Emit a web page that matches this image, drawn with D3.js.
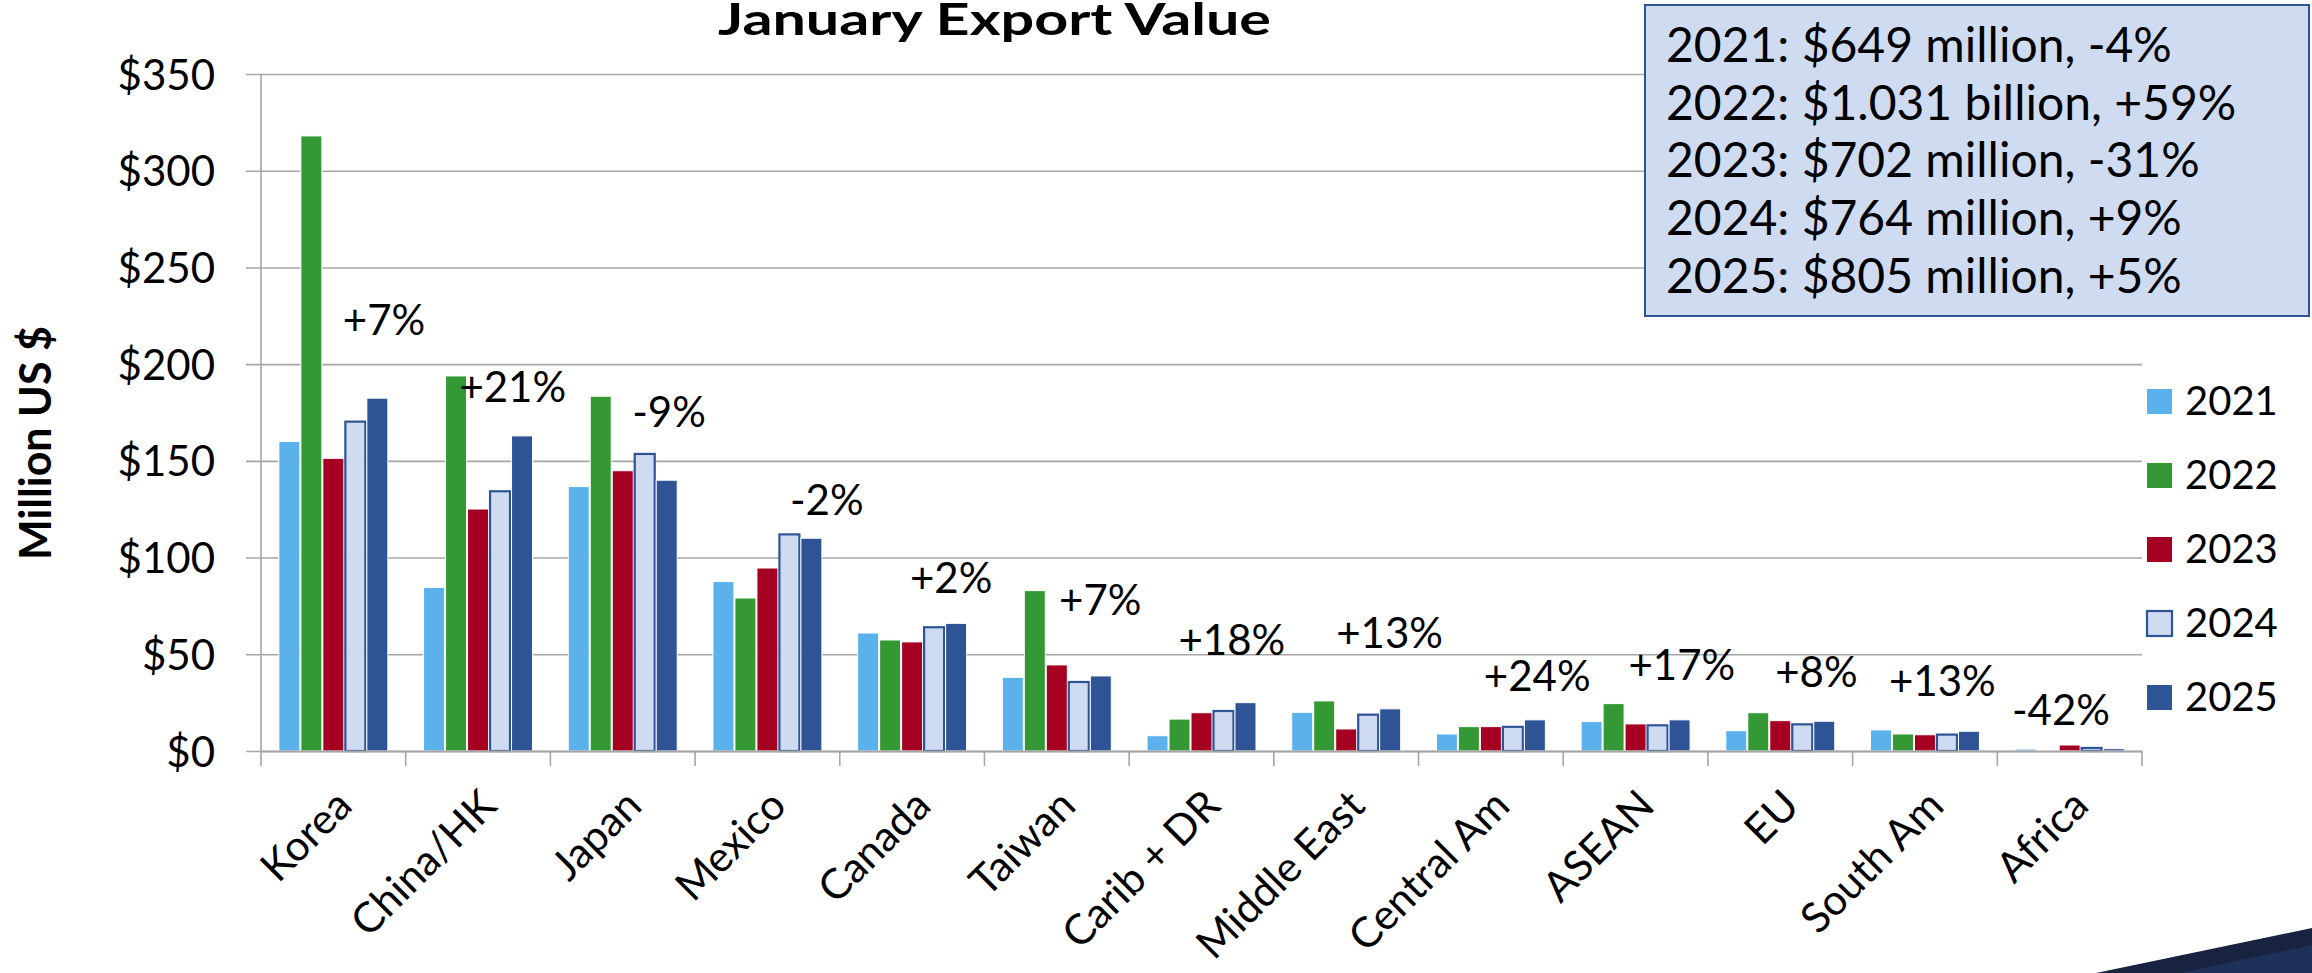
<!DOCTYPE html>
<html>
<head>
<meta charset="utf-8">
<script src="https://cdn.jsdelivr.net/npm/d3@7"></script>
<style>
  html, body { margin: 0; padding: 0; background: #fff; }
  svg { display: block; font-family: Lato, "Open Sans", sans-serif; }
</style>
</head>
<body>
<svg id="chart" width="2312" height="973"></svg>
<script>
// ---------- data ----------
const categories = ["Korea", "China/HK", "Japan", "Mexico", "Canada", "Taiwan", "Carib + DR",
                    "Middle East", "Central Am", "ASEAN", "EU", "South Am", "Africa"];
const years = ["2021", "2022", "2023", "2024", "2025"];
const v2021 = [160.0, 84.6, 136.7, 87.6, 61.0, 38.1, 7.9, 20.0, 8.8, 15.2, 10.5, 10.9, 1.0];
const v2022 = [318.0, 193.9, 183.4, 79.1, 57.4, 82.9, 16.5, 25.9, 12.6, 24.5, 19.8, 8.8, 0.3];
const v2023 = [151.3, 125.1, 144.9, 94.6, 56.4, 44.5, 19.8, 11.4, 12.6, 14.0, 15.7, 8.4, 3.1];
const v2024 = [170.8, 134.8, 154.1, 112.5, 64.5, 36.2, 21.2, 19.3, 13.0, 13.8, 14.3, 9.0, 2.1];
const v2025 = [182.4, 162.9, 140.0, 110.0, 66.0, 38.8, 25.0, 21.8, 16.1, 16.1, 15.4, 10.2, 1.2];
const changeLabels = ["+7%", "+21%", "-9%", "-2%", "+2%", "+7%", "+18%", "+13%", "+24%", "+17%", "+8%", "+13%", "-42%"];
const yTicks = [0, 50, 100, 150, 200, 250, 300, 350];
const summaryLines = ["2021: $649 million, -4%", "2022: $1.031 billion, +59%", "2023: $702 million, -31%",
                      "2024: $764 million, +9%", "2025: $805 million, +5%"];
const titleText = "January Export Value";
const yAxisTitle = "Million US $";

// annotation placement (value level of label baseline, and shift within the category band)
const labelLevel = [215, 180.5, 167.5, 122, 81.7, 70.3, 49.6, 53.3, 31, 36.7, 33.1, 28.4, 13.4];
const labelShift = [0.35, 0.24, 0.32, 0.41, 0.27, 0.30, 0.21, 0.30, 0.32, 0.32, 0.25, 0.12, -0.06];

const seriesValues = [v2021, v2022, v2023, v2024, v2025];
const colors = ["#5AB1EC", "#349934", "#A50021", "#CFDBF1", "#2F5496"];
const strokes = ["#ffffff", "#ffffff", "#ffffff", "#2F5496", "#ffffff"];

// ---------- layout ----------
const svg = d3.select("#chart");
const plotLeft = 261, plotRight = 2142, plotTop = 74, plotBottom = 751;

const x0 = d3.scaleBand().domain(categories).range([plotLeft, plotRight]).paddingInner(0).paddingOuter(0);
const x1 = d3.scaleBand().domain(years).range([x0.bandwidth() * 0.12, x0.bandwidth() * 0.88]).padding(0);
const y = d3.scaleLinear().domain([0, 350]).range([plotBottom, plotTop]);

const grid = "#A6A6A6";

// gridlines + y tick labels
const yAxis = d3.axisLeft(y).tickValues(yTicks).tickSize(0).tickFormat(d => "$" + d);
const gy = svg.append("g").attr("transform", `translate(${plotLeft},0)`).call(yAxis);
gy.select(".domain").remove();
gy.selectAll(".tick line").remove();
gy.selectAll(".tick").append("line")
  .attr("x1", -15).attr("x2", plotRight - plotLeft)
  .attr("stroke", grid).attr("stroke-width", 1.6);
gy.selectAll(".tick text")
  .attr("x", 215 - plotLeft).attr("dy", "0.36em")
  .attr("font-size", 42).attr("fill", "#000")
  .attr("font-family", "Lato, 'Open Sans', sans-serif");

// y axis vertical line
svg.append("line").attr("x1", plotLeft).attr("x2", plotLeft).attr("y1", y(350)).attr("y2", y(0))
  .attr("stroke", grid).attr("stroke-width", 1.6);

// bars
const groups = svg.append("g").selectAll("g").data(categories).join("g")
  .attr("transform", d => `translate(${x0(d)},0)`);
groups.selectAll("rect").data((c, ci) => years.map((yr, si) => ({yr, si, v: seriesValues[si][ci]})))
  .join("rect")
  .attr("x", d => x1(d.yr) + (d.si === 3 ? 1 : 0.5))
  .attr("width", d => x1.bandwidth() - (d.si === 3 ? 2 : 1))
  .attr("y", d => y(d.v) + (d.si === 3 ? 1 : 0))
  .attr("height", d => Math.max(0, y(0) - y(d.v) - (d.si === 3 ? 1 : 0)))
  .attr("fill", d => colors[d.si])
  .attr("stroke", d => strokes[d.si])
  .attr("stroke-width", d => d.si === 3 ? 2.2 : 1);

// x axis line and ticks
const xAxis = d3.axisBottom(x0).tickSize(0).tickFormat("");
const gx = svg.append("g").attr("transform", `translate(0,${plotBottom})`).call(xAxis);
gx.select(".domain").attr("stroke", grid).attr("stroke-width", 1.8);
const bounds = categories.map(c => x0(c)).concat([plotRight]);
svg.append("g").selectAll("line").data(bounds).join("line")
  .attr("x1", d => d).attr("x2", d => d).attr("y1", plotBottom).attr("y2", plotBottom + 15)
  .attr("stroke", grid).attr("stroke-width", 1.6);

// category labels (rotated)
svg.append("g").selectAll("text").data(categories).join("text")
  .attr("transform", d => `translate(${x0(d) + x0.bandwidth() / 2 + 21},${plotBottom + 57}) rotate(-45)`)
  .attr("text-anchor", "end")
  .attr("font-size", 42)
  .attr("fill", "#000")
  .text(d => d);

// change labels
svg.append("g").selectAll("text").data(categories).join("text")
  .attr("x", (d, i) => x0(d) + x0.bandwidth() * (0.5 + labelShift[i]))
  .attr("y", (d, i) => y(labelLevel[i]))
  .attr("text-anchor", "middle")
  .attr("font-size", 42)
  .attr("fill", "#000")
  .text((d, i) => changeLabels[i]);

// y axis title
svg.append("text")
  .attr("transform", "translate(51,443) rotate(-90)")
  .attr("text-anchor", "middle")
  .attr("font-size", 43)
  .attr("font-weight", 700)
  .text(yAxisTitle);

// title
svg.append("text")
  .attr("x", 718).attr("y", 35)
  .attr("font-size", 44)
  .attr("font-weight", 700)
  .attr("textLength", 553)
  .attr("lengthAdjust", "spacingAndGlyphs")
  .text(titleText);

// legend
const legend = svg.append("g").selectAll("g").data(years).join("g")
  .attr("transform", (d, i) => `translate(2147,${401 + i * 74})`);
legend.append("rect")
  .attr("x", 0).attr("y", -12)
  .attr("width", 25).attr("height", 25)
  .attr("fill", (d, i) => colors[i])
  .attr("stroke", (d, i) => i === 3 ? "#2F5496" : "none")
  .attr("stroke-width", 2.2);
legend.append("text")
  .attr("x", 38).attr("y", 0).attr("dy", "0.36em")
  .attr("font-size", 40)
  .text(d => d);

// summary box
svg.append("rect")
  .attr("x", 1645).attr("y", 5).attr("width", 664).attr("height", 311)
  .attr("fill", "#CFDBF1").attr("stroke", "#2F5496").attr("stroke-width", 2);
svg.append("g").selectAll("text").data(summaryLines).join("text")
  .attr("x", 1666).attr("y", (d, i) => 62 + i * 57.7)
  .attr("font-size", 48)
  .attr("fill", "#000")
  .text(d => d);

// decorative corner
svg.append("path").attr("d", "M2096,973 L2312,928 L2312,973 Z").attr("fill", "#17233F");
svg.append("path").attr("d", "M2180,973 L2312,945 L2312,973 Z").attr("fill", "#1E3158");
</script>
</body>
</html>
